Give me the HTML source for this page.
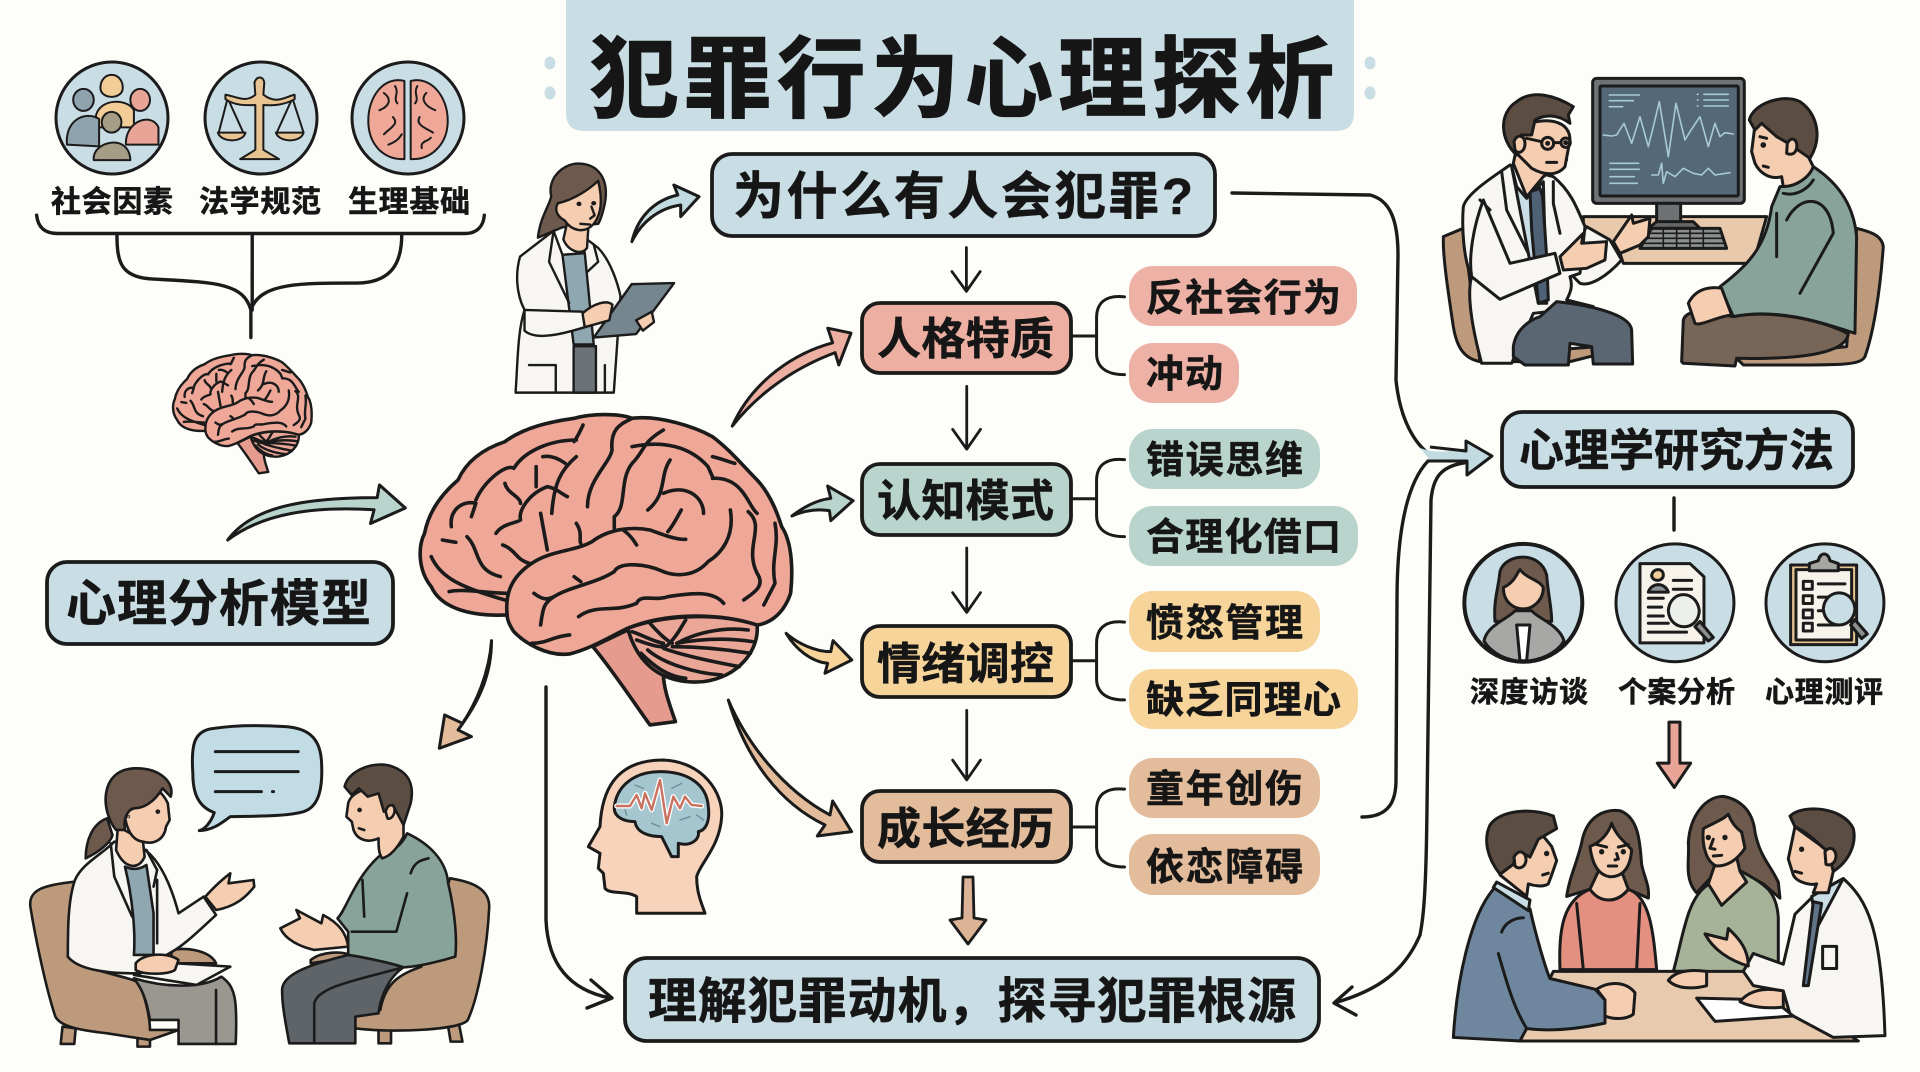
<!DOCTYPE html>
<html lang="zh"><head><meta charset="utf-8"><title>犯罪行为心理探析</title>
<style>
html,body{margin:0;padding:0;background:#FDFDF9;width:1920px;height:1072px;overflow:hidden}
svg{display:block}
path,rect,ellipse,circle,line{vector-effect:non-scaling-stroke}
text{font-family:"Liberation Sans","Noto Sans CJK SC",sans-serif;font-weight:700;fill:#161616;stroke:#161616;stroke-width:.5}
.s path,.s rect,.s ellipse,.s circle{stroke:#1b1b1b;stroke-linejoin:round;stroke-linecap:round}
.n{fill:none}
</style></head><body>
<svg width="1920" height="1072" viewBox="0 0 1920 1072" xmlns="http://www.w3.org/2000/svg">
<defs>
<g id="brain" class="s">
<g transform="translate(400,380) scale(.4464,.3333)">
<path fill="#E59C8E" d="M432 800C470 860 520 960 560 1035L617 1025C600 960 590 920 590 880L510 750Z"/>
<path fill="#EAA797" d="M510 745C540 890 620 912 680 905C760 890 805 810 800 735C720 700 600 700 510 745Z"/>
<path fill="#EFA898" d="M240 705C150 710 90 680 70 620C40 570 40 500 55 460C65 390 95 340 130 300C150 240 190 205 235 185C280 140 340 125 390 115C430 100 490 100 520 115C580 105 660 140 700 170C740 210 770 260 800 300C835 350 850 420 855 440C880 490 880 580 875 640C860 700 830 730 800 735C720 700 600 695 510 745C470 770 430 805 380 822C330 830 280 790 255 755C245 735 240 720 240 705Z"/>
<path class="n" d="M240 640C200 640 140 625 110 635M70 530C90 590 130 620 235 660M95 480L125 487M150 470C180 510 165 570 225 590M115 440C110 390 140 360 170 370L160 410M230 495C260 510 260 540 290 550M215 460C230 430 260 430 270 420C265 390 290 340 330 320C350 325 360 340 375 350M235 310C240 340 270 350 270 370M170 360C190 300 240 250 255 265C280 210 340 180 395 180M305 260L305 320M320 230C340 225 360 240 370 250M395 230C360 270 345 310 340 400M410 135C400 165 395 175 390 185M315 400L330 510M395 430C410 460 400 480 405 490M420 380C420 300 470 250 475 210C470 140 500 130 520 115M590 150C540 190 550 210 520 250C490 300 510 380 480 410L480 450M555 390C600 340 580 290 605 240M520 200C590 180 650 200 690 260L700 290M630 390C610 440 600 455 600 455M590 340C640 310 680 350 680 400M700 230C730 240 745 250 750 250M700 295C770 290 780 380 800 400M740 390C750 470 720 520 690 545C660 590 620 590 590 575M780 395C820 440 770 500 800 580C820 620 790 640 770 660M840 430C850 500 830 540 840 610L815 675M240 705C235 640 250 590 295 550C340 510 390 515 430 485C470 445 520 440 560 450C590 465 620 480 640 478M500 450C520 470 525 485 530 495M300 640C320 660 330 660 345 650C380 620 440 610 480 575C490 545 550 550 590 575M390 590L405 605M315 735C320 690 320 670 345 650M400 710C440 670 480 700 530 670C540 640 570 665 600 650C650 640 700 630 725 670M380 765C340 770 330 790 295 790M620 790C660 760 720 740 780 750M620 790C680 775 740 775 790 785M610 800C680 800 740 810 785 820M590 805C640 830 720 850 760 860M555 810C590 850 660 880 720 885M540 820C570 860 600 890 640 895M530 780C570 800 590 805 600 795C620 770 630 740 640 720M520 755C550 770 570 785 590 790M560 730C580 760 595 780 610 790"/>
</g></g>
</defs>
<rect width="1920" height="1072" fill="#FDFDF9"/>

<!-- title -->
<path d="M566 0H1354V113Q1354 131 1336 131H584Q566 131 566 113Z" fill="#C9DDE4"/>
<g fill="#C9DDE4"><ellipse cx="550" cy="63" rx="5.5" ry="6.5"/><ellipse cx="550" cy="93" rx="5.5" ry="6.5"/><ellipse cx="1370" cy="63" rx="5.5" ry="6.5"/><ellipse cx="1370" cy="93" rx="5.5" ry="6.5"/></g>
<text x="590" y="110" font-size="88" textLength="744" style="stroke-width:1.6">犯罪行为心理探析</text>

<!-- three top circles -->
<g class="s" stroke-width="3">
<circle cx="112" cy="118" r="56" fill="#C9DDE4"/><circle cx="261" cy="118" r="56" fill="#C9DDE4"/><circle cx="408" cy="118" r="56" fill="#C9DDE4"/>
<g transform="scale(.4464,.3444)" stroke-width="2">
<path fill="#F3CD97" d="M225 255C225 205 275 205 275 255C275 290 225 290 225 255ZM215 335C225 285 285 285 300 320L300 370H215Z"/>
<ellipse cx="187" cy="290" rx="23" ry="32" fill="#8FA3AE"/><path fill="#8FA3AE" d="M150 420C145 350 190 320 222 345L222 425Z"/>
<ellipse cx="314" cy="290" rx="22" ry="32" fill="#E8A497"/><path fill="#E8A497" d="M282 420C280 350 340 325 355 370V420Z"/>
<ellipse cx="250" cy="355" rx="22" ry="30" fill="#A59D85"/><path fill="#A59D85" d="M210 465C205 410 290 385 292 465Z"/>
<path class="n" d="M580 230V440M505 280C550 300 610 300 660 280M510 285L490 385M510 285L545 385M655 285L620 385M655 285L680 385" stroke="#1b1b1b"/>
<path fill="#E9C493" d="M570 240C575 220 590 220 592 240L590 275C620 305 640 280 660 275V288C630 310 600 305 590 305L590 435L625 462H538L572 435L572 305C560 305 530 310 505 288V275C530 280 550 300 572 275Z"/>
<path fill="#E9C493" d="M488 385H550C545 415 495 415 488 385ZM618 385H680C675 415 625 415 618 385Z"/>
<path fill="#EFA898" d="M906 235C860 220 825 280 825 350C825 420 860 465 906 462ZM920 235C965 220 1003 280 1003 350C1003 420 965 465 920 462Z"/>
<path class="n" d="M860 270C880 290 870 310 850 320M880 340C895 360 875 370 860 390M870 420C890 410 895 400 900 390M955 270C940 290 955 310 975 320M940 340C930 360 950 370 970 385M945 430C940 410 960 410 965 400M885 250C895 270 880 285 890 300M935 250C925 270 940 285 930 300"/>
</g></g>
<g font-size="30"><text x="51" y="212" textLength="122">社会因素</text><text x="199" y="212" textLength="122">法学规范</text><text x="348" y="212" textLength="122">生理基础</text></g>
<g transform="scale(.4464,.3444)" fill="none" stroke="#1b1b1b" stroke-width="3.4" stroke-linecap="round">
<path d="M82 625C85 660 100 678 130 678L1040 678C1070 678 1083 655 1085 625M262 680C262 760 270 805 340 810C480 820 545 820 562 900L562 980M900 680C900 760 880 820 800 822C680 822 590 820 565 890M565 680V900"/>
</g>

<!-- brains -->
<use href="#brain" stroke-width="3.6"/>
<use href="#brain" stroke-width="2.4" transform="translate(173,352) scale(.373,.385) translate(-420,-410)"/>

<!-- center doctor -->
<g class="s" stroke-width="2.4" transform="scale(.4464,.3444)">
<path fill="#6E5A4D" d="M1205 690C1210 630 1230 600 1235 570C1225 520 1260 475 1295 475C1340 475 1365 520 1355 590C1350 620 1345 640 1340 650L1260 660Z"/>
<path fill="#F7F6F2" d="M1155 1140C1160 1040 1160 960 1175 900C1155 850 1155 790 1165 745L1240 670L1260 740L1310 735L1300 680L1340 720C1370 760 1385 830 1390 860L1375 1140Z"/>
<path fill="#8EA7B0" d="M1260 740L1310 735L1330 1000L1285 1000Z"/><path fill="#6B7278" d="M1285 1005H1335V1140H1285Z"/>
<path fill="#F5CDB0" d="M1270 650L1262 695C1270 725 1300 745 1315 720L1318 660Z"/>
<path fill="#F5CDB0" d="M1250 590C1285 580 1320 550 1340 525C1350 580 1348 620 1330 650C1310 680 1280 670 1265 640C1250 630 1240 610 1250 590Z"/>
<circle cx="1297" cy="592" r="3" fill="#1b1b1b"/><circle cx="1330" cy="590" r="3" fill="#1b1b1b"/>
<path class="n" d="M1325 600L1332 625L1322 635M1300 650L1322 652"/>
<path fill="#F7F6F2" d="M1175 900L1305 905L1310 950C1260 970 1200 990 1175 960Z"/>
<path fill="#76868F" d="M1415 825L1510 822L1425 970L1330 980Z"/>
<path fill="#F5CDB0" d="M1305 910C1330 880 1360 870 1372 885L1365 930L1310 950ZM1425 930L1460 905L1465 935L1440 960Z"/>
<path class="n" d="M1240 670L1230 760L1275 880M1330 710L1340 760L1315 790M1185 1060H1245V1140M1355 1060V1140"/>
</g>

<!-- top arrow beside question -->
<path class="s" d="M195 725C205 650 235 600 275 585L268 555L312 590L280 650L280 615C240 625 210 670 195 725Z" transform="translate(520,0) scale(.5739,.3333)" fill="#C2DBE0" stroke="#1b1b1b" stroke-width="3" stroke-linejoin="round"/>

<!-- boxes -->
<g stroke="#1b1b1b" stroke-width="3.8">
<rect x="712" y="154" width="503" height="82" rx="20" fill="#C9DDE4"/>
<rect x="47" y="562" width="346" height="82" rx="20" fill="#C9DDE4"/>
<rect x="1502" y="412" width="351" height="75" rx="20" fill="#C9DDE4"/>
<rect x="625" y="958" width="694" height="83" rx="22" fill="#C9DDE4"/>
<rect x="862" y="303" width="209" height="70" rx="18" fill="#EDAFA2"/>
<rect x="862" y="464" width="209" height="71" rx="18" fill="#B9D3CD"/>
<rect x="862" y="626" width="209" height="71" rx="18" fill="#F7D59A"/>
<rect x="862" y="791" width="209" height="71" rx="18" fill="#E3BC9B"/>
</g>
<g>
<rect x="1129" y="266" width="228" height="60" rx="24" fill="#EDB2A5"/><rect x="1129" y="343" width="110" height="60" rx="24" fill="#EDB2A5"/>
<rect x="1129" y="429" width="191" height="60" rx="24" fill="#B9D3CD"/><rect x="1129" y="506" width="229" height="60" rx="24" fill="#B9D3CD"/>
<rect x="1129" y="591" width="191" height="61" rx="24" fill="#F7D59A"/><rect x="1129" y="669" width="229" height="60" rx="24" fill="#F7D59A"/>
<rect x="1129" y="758" width="191" height="60" rx="24" fill="#E3BC9B"/><rect x="1129" y="834" width="191" height="61" rx="24" fill="#E3BC9B"/>
</g>
<text x="733" y="214" font-size="51" textLength="460">为什么有人会犯罪?</text>
<text x="66" y="621" font-size="50" textLength="305">心理分析模型</text>
<text x="1519" y="466" font-size="45" textLength="315">心理学研究方法</text>
<text x="648" y="1018" font-size="49" textLength="648">理解犯罪动机，探寻犯罪根源</text>
<g font-size="44"><text x="877" y="354" textLength="177">人格特质</text><text x="877" y="516" textLength="177">认知模式</text><text x="877" y="679" textLength="177">情绪调控</text><text x="877" y="844" textLength="177">成长经历</text></g>
<g font-size="38"><text x="1146" y="311" textLength="195">反社会行为</text><text x="1146" y="387" textLength="77">冲动</text><text x="1146" y="473" textLength="157">错误思维</text><text x="1146" y="550" textLength="195">合理化借口</text><text x="1146" y="636" textLength="157">愤怒管理</text><text x="1146" y="713" textLength="195">缺乏同理心</text><text x="1146" y="802" textLength="157">童年创伤</text><text x="1146" y="880" textLength="157">依恋障碍</text></g>

<!-- connectors column -->
<g transform="translate(840,240) scale(.3444,.4208)" fill="none" stroke="#1b1b1b" stroke-width="2.8" stroke-linecap="round" stroke-linejoin="round">
<path d="M367 18V120M325 75L367 122L407 75M368 348V495M327 450L368 497L408 450M368 732V883M327 838L368 885L408 838M368 1118V1281M327 1236L368 1283L408 1236"/>
</g>
<g transform="translate(840,240) scale(.3444,.4208)" fill="none" stroke="#1b1b1b" stroke-width="3" stroke-linecap="round">
<path d="M675 228H742M826 135C770 130 745 150 745 185V270C745 300 770 320 826 320"/>
<path d="M675 615H742M826 522C770 517 745 537 745 572V655C745 685 770 705 826 705"/>
<path d="M675 1000H742M826 908C770 903 745 923 745 958V1043C745 1073 770 1093 826 1093"/>
<path d="M675 1395H742M826 1305C770 1300 745 1320 745 1355V1440C745 1470 770 1490 826 1490"/>
</g>
<path d="M963 877L973 877L974 918L986 920L968 944L950 920L962 918Z" fill="#DDB398" stroke="#1b1b1b" stroke-width="2.8" stroke-linejoin="round"/>

<!-- long lines -->
<g fill="none" stroke="#1b1b1b" stroke-width="3.4" stroke-linecap="round" stroke-linejoin="round">
<path d="M1232 193L1370 195C1390 200 1398 220 1398 255L1396 380C1400 420 1415 445 1432 456"/>
<path d="M1362 817C1390 817 1396 800 1396 780L1397 600C1397 520 1410 480 1428 461"/>
<path d="M1470 462C1440 465 1433 478 1431 500L1427 807C1426 900 1423 920 1420 935C1405 970 1380 990 1334 1003M1352 987L1334 1003L1356 1015"/>
<path d="M546 687V920C548 965 570 990 610 998M591 980L612 998L587 1008"/>
<path d="M1674 498V530" stroke-width="3.4"/>
</g>
<path d="M1420 448C1440 455 1452 450 1466 448L1466 441L1492 456L1467 475L1467 462C1450 463 1440 462 1430 460Z" fill="#C2DBE0"/>
<path d="M1430 447L1466 451L1466 441L1492 456L1467 475L1467 461L1428 461" fill="none" stroke="#1b1b1b" stroke-width="3" stroke-linejoin="round"/>

<!-- block arrows -->
<g stroke="#1b1b1b" stroke-width="3" stroke-linejoin="round">
<path transform="scale(.4464,.3444)" fill="#B9D3CD" d="M510 1568C560 1480 660 1445 845 1445L850 1408L908 1475L830 1520L838 1480C700 1470 590 1490 510 1568Z"/>
<path transform="scale(1.2245)" fill="#EDAFA2" d="M598 348C615 310 650 288 680 280L676 268L695 272L685 298L682 288C650 300 620 320 598 348Z"/>
<path transform="translate(400,380) scale(.4464,.3333)" fill="#B9D3CD" d="M878 408C905 380 935 360 965 355L958 318L1015 362L965 422L962 392C930 385 900 395 878 408Z"/>
<path transform="translate(400,380) scale(.4464,.3333)" fill="#F7D59A" d="M865 760C890 790 930 815 965 815L970 782L1012 840L952 880L958 850C920 845 885 805 865 760Z"/>
<path transform="translate(400,380) scale(.4464,.3333)" fill="#E3BC9B" d="M205 782C200 880 170 970 140 1030L100 1005L88 1105L160 1070L130 1050C180 960 205 880 205 782Z"/>
<path transform="translate(560,700) scale(.3333)" fill="#E3BC9B" d="M505 0C560 130 670 270 810 345L818 303L875 395L772 408L795 375C660 310 560 180 505 0Z"/>
<path transform="translate(1420,500) scale(.3333,.3571)" fill="#E8A497" d="M747 622H780V737H812L763 805L712 737H747Z"/>
</g>

<!-- head with brain -->
<g class="s" transform="translate(560,700) scale(.3333)" stroke-width="3">
<path fill="#F6D3BA" d="M230 640V590C200 570 150 585 135 565L130 520L115 505L120 460L85 440L120 380C125 280 160 180 310 180C430 185 490 280 485 350C480 440 420 490 410 530C410 580 425 610 435 640Z"/>
<path fill="#A5C6CF" d="M163 320C170 260 220 215 300 215C380 215 440 250 445 320C450 360 440 390 415 395C420 420 390 440 355 430L355 470L335 470L305 410C270 410 230 400 225 365C190 365 160 350 163 320Z"/>
<path class="n" style="stroke:#6E8F9C" stroke-width="1.4" d="M225 255L250 265M335 265L365 250M275 370L300 380M360 360L390 350M410 345L430 360M195 330L200 345"/>
<path class="n" style="stroke:#fff" stroke-width="5" d="M170 318L210 318L230 285L245 325L255 280L275 330L300 240L320 370L340 290L360 325L375 290L395 315L425 318"/>
<path class="n" style="stroke:#C9705F" stroke-width="2.4" d="M170 318L210 318L230 285L245 325L255 280L275 330L300 240L320 370L340 290L360 325L375 290L395 315L425 318"/>
</g>

<!-- left counselling scene -->
<g class="s" transform="translate(0,680) scale(.3571,.3333)" stroke-width="2.6">
<path fill="#C2DCE5" d="M600 145C540 150 535 200 540 280C540 340 555 380 600 398C590 430 570 450 558 452C600 450 625 425 645 410C720 408 800 410 850 395C895 380 905 320 900 240C895 170 860 145 800 140C730 135 660 135 600 145Z" stroke-width="3"/>
<path class="n" d="M603 215H835M603 275H835M603 335H732M763 335H766" stroke-width="3"/>
<path fill="#BE9A7C" d="M175 1040L170 1092H208L212 1045ZM385 1060V1100H420V1060ZM1060 1050V1090H1095V1050ZM1255 1040L1262 1085H1295L1285 1030Z"/>
<path fill="#BE9A7C" d="M85 680C80 630 120 615 210 605L190 830C260 880 370 890 390 910C410 960 420 1020 420 1050L500 1050L420 1080L300 1060C220 1050 170 1040 155 1010C130 930 100 780 85 680Z"/>
<path fill="#9A9690" d="M375 895C450 920 560 930 620 890C660 920 665 960 660 1092H500V1020H420C410 960 400 930 375 895Z"/>
<path class="n" d="M605 930V1092"/>
<path fill="#BE9A7C" d="M480 810C530 800 590 815 605 850L480 850Z"/>
<path fill="#F7F6F2" d="M210 600C230 550 290 520 320 485L400 505C450 540 480 620 500 700L570 650L605 705C560 750 520 790 490 810L380 880C300 880 220 870 190 830C190 750 190 660 210 600Z"/>
<path fill="#8EA7B0" d="M350 560C370 570 390 570 410 555L430 700L430 825L375 825C380 750 370 650 350 560Z"/>
<path class="n" d="M310 490L320 590L370 710M410 510L440 570L430 620M440 600V790"/>
<path fill="#F5CDB0" d="M330 440L325 510C350 570 390 570 405 530L400 480Z"/>
<path fill="#6E5A4D" d="M300 415C260 430 240 480 240 535C270 520 310 490 315 465Z"/>
<path fill="#F5CDB0" d="M350 370C370 300 440 300 470 370L475 420L465 440C460 480 430 495 400 485C360 480 345 420 350 370Z"/>
<path fill="#6E5A4D" d="M325 450C280 390 280 270 375 265C450 262 490 310 478 350L455 325C430 370 400 385 375 385C355 390 345 420 350 450Z"/>
<circle cx="442" cy="395" r="3" fill="#1b1b1b"/><circle cx="360" cy="410" r="1" fill="#1b1b1b"/>
<path fill="#F5CDB0" d="M575 650C600 620 620 600 645 580L640 610L710 600L712 620C690 650 660 680 605 690Z"/>
<path fill="#F7F6F2" d="M375 885L550 915L645 860L495 850Z"/>
<path fill="#F5CDB0" d="M380 850C400 820 470 815 500 840L490 870C470 885 400 885 380 870Z"/>
<path fill="#BE9A7C" d="M995 1045C1100 1060 1290 1050 1310 1020C1340 950 1365 800 1370 680C1370 625 1320 605 1260 595L1180 860C1130 880 1080 900 1065 990L995 1010Z"/>
<path fill="#BE9A7C" d="M870 840C900 815 960 810 990 830L870 850Z"/>
<path fill="#5F6468" d="M790 930C790 880 880 850 975 825C1040 825 1090 850 1130 862C1090 890 1065 950 1060 1000L995 1010V1090H810C800 1030 790 980 790 930Z"/>
<path class="n" d="M880 1090V970C890 920 1000 900 1130 862"/>
<path fill="#88A399" d="M1060 530C1080 520 1120 510 1140 460C1200 490 1250 540 1255 610C1275 700 1280 780 1275 830C1230 845 1170 860 1130 862C1100 850 1010 830 975 825L975 755L945 715C970 690 990 600 1060 530Z"/>
<path class="n" d="M1015 600L1020 710M1140 640L1110 755H985M1150 580C1160 545 1180 540 1200 535"/>
<path fill="#F5CDB0" d="M975 370C990 310 1130 300 1130 400V470C1110 510 1090 530 1070 535C1060 520 1060 500 1060 475C1030 490 1000 480 990 450L985 425L970 410Z"/>
<path fill="#5C4D43" d="M965 320C975 270 1050 240 1100 260C1150 280 1160 320 1150 370L1130 435L1100 375L1075 395L1060 340L1030 350L1005 325L985 345Z"/>
<circle cx="1007" cy="390" r="3" fill="#1b1b1b"/>
<path class="n" d="M1005 445L1020 450"/>
<path fill="#F5CDB0" d="M1080 395C1085 370 1105 370 1105 390C1105 410 1090 420 1085 415Z"/>
<path fill="#F5CDB0" d="M785 745L840 715L830 690L900 730L905 705C950 730 970 760 975 800L880 810C840 800 800 780 785 745Z"/>
</g>

<!-- top-right scene -->
<g class="s" transform="translate(1400,60) scale(.3333)" stroke-width="3">
<path fill="#E8C9AB" d="M550 470H1100L1060 610H670L660 580L550 500Z"/>
<rect x="578" y="55" width="455" height="375" rx="12" fill="#6E7275"/>
<rect x="600" y="78" width="415" height="330" rx="4" fill="#556879"/>
<path class="n" style="stroke:#A8CBD3" stroke-width="1.6" d="M610 225L635 228L650 225L672 190L695 250L720 170L745 260L760 200L778 125L805 290L828 130L855 240L870 215L900 170L925 260L945 190L960 230L975 218L1000 222M755 345L775 345L785 310L790 370L800 335L825 350L850 325L880 340L905 345L925 325L945 345L990 338M628 105H718M628 122H700M628 140H668M912 103H985M912 120H985M912 138H985M630 310H716M630 328H718M630 350H703M630 370H712M892 103h2M892 120h2M892 138h2"/>
<path fill="#6E7275" d="M770 430H842V487H770Z"/><path fill="#666" d="M745 505L770 485H880L900 505Z"/>
<path fill="#8C8F8F" d="M755 505H960L980 565H720Z"/>
<path class="n" stroke-width="1.6" d="M750 520H965M742 535H970M730 550H975M790 510V560M830 510V560M870 510V560M910 510V560"/>
<path fill="#BE9A7C" d="M130 530L190 505L240 905C190 895 170 860 160 800C145 700 130 600 130 545Z"/>
<path fill="#BE9A7C" d="M1370 505C1410 515 1445 525 1450 560C1440 700 1420 820 1395 890C1380 920 1300 915 1030 915L1010 895L1340 860Z"/>
<path fill="#BE9A7C" d="M340 880L590 860V885L510 905H340Z"/>
<path fill="#F7F6F2" d="M560 500L630 540L665 600C620 650 570 680 540 670L490 620Z"/>
<path fill="#F7F6F2" d="M190 440C200 400 280 350 330 315L460 350C510 390 530 440 555 500L540 640L510 650C520 680 510 700 500 720L580 740L400 760L335 910H245C215 800 200 700 215 650C190 600 185 500 190 440Z"/>
<path fill="#C9DDE4" d="M335 320L350 380L380 415L430 365L440 730L415 730L385 580Z"/>
<path fill="#4F6175" d="M390 395L420 385L428 410L440 590L445 720L415 730L395 510Z"/>
<path class="n" d="M305 335L320 450L385 580M460 365L460 430L480 520M240 420L270 450"/>
<path fill="#5A6672" d="M340 860C350 790 420 770 420 770L470 725C560 735 690 760 695 810L698 912H580L575 860L510 850L505 915H375L340 890Z"/>
<path fill="#F7F6F2" d="M215 650L300 718L480 640L465 580L330 610L250 420C220 500 205 590 215 650Z"/>
<path fill="#F5CDB0" d="M340 310L355 240L500 300L430 350L380 410Z"/>
<path fill="#F5CDB0" d="M345 230C350 180 510 150 510 240L495 320C470 350 430 345 395 325L350 280Z"/>
<path fill="#5C4D43" d="M350 285C300 240 295 160 350 125C400 85 470 110 520 140L505 165L510 190C470 160 430 165 405 180L395 225L365 225C345 235 345 270 350 285Z"/>
<path fill="#F5CDB0" d="M342 245C350 220 375 225 375 250C375 275 355 285 345 270Z"/>
<circle cx="443" cy="250" r="18" fill="none"/><circle cx="497" cy="248" r="14" fill="none"/><path class="n" d="M380 235L425 245M461 248H483M440 307H470"/>
<circle cx="443" cy="250" r="3" fill="#1b1b1b"/><circle cx="497" cy="248" r="3" fill="#1b1b1b"/>
<path fill="#F5CDB0" d="M480 590L550 520L545 550L620 545L615 600L560 625L490 630Z"/>
<path fill="#F5CDB0" d="M640 545L695 465L700 490L750 475L745 530L720 555L660 580Z"/>
<path fill="#776658" d="M845 905L850 780C860 750 900 750 1000 770C1130 745 1290 790 1345 822C1340 860 1280 900 1010 895L1005 918L850 910Z"/>
<path fill="#88A399" d="M1240 320C1300 360 1360 420 1370 530L1365 820C1300 800 1150 740 1000 770L960 680C1040 620 1100 560 1115 440L1140 380C1190 380 1220 350 1240 320Z"/>
<path class="n" d="M1130 460V590M1150 400C1190 410 1225 385 1240 360M1160 480C1200 400 1290 400 1300 520L1200 700"/>
<path fill="#F5CDB0" d="M865 730C890 680 940 680 965 685L995 765C950 770 900 800 885 790Z"/>
<path fill="#F5CDB0" d="M1065 195L1055 275L1065 310C1080 340 1110 360 1145 350L1150 380C1190 380 1230 350 1240 320L1225 290C1260 230 1240 170 1190 130Z"/>
<path fill="#5C4D43" d="M1048 180C1060 130 1150 100 1200 125C1250 160 1270 230 1230 295L1165 250L1130 230L1085 190L1065 210Z"/>
<path fill="#F5CDB0" d="M1162 250C1175 225 1195 240 1190 265C1185 285 1170 285 1160 280Z"/>
<circle cx="1090" cy="255" r="4" fill="#1b1b1b"/><path class="n" d="M1080 230L1100 235M1090 318L1105 322"/>
</g>

<!-- methods circles -->
<g class="s" transform="translate(1420,500) scale(.3333,.3571)" stroke-width="3">
<ellipse cx="310" cy="288" rx="177" ry="165" fill="#C9DDE4" stroke-width="4"/><ellipse cx="765" cy="288" rx="177" ry="165" fill="#C9DDE4"/><ellipse cx="1215" cy="288" rx="177" ry="165" fill="#C9DDE4"/>
<path fill="#6E5A4D" d="M225 340C220 280 235 250 240 200C255 150 360 140 380 210C385 270 395 300 395 340Z"/>
<path fill="#A7A7A5" d="M192 395C200 350 270 330 285 310H335C350 330 420 350 432 395C410 430 360 450 310 452C260 450 215 430 192 395Z"/>
<path fill="#fff" d="M290 350H330L320 450H300Z"/>
<path fill="#F5CDB0" d="M250 245C285 230 290 205 300 195C320 220 360 225 370 245C370 280 340 305 310 305C280 305 250 285 250 245Z"/>
<path fill="#F7F3EA" d="M660 178H810L852 215V400H660Z"/><path fill="#F3CD97" d="M695 210C700 190 730 190 730 210C730 230 695 230 695 210Z"/><path fill="#8A949A" d="M685 258C695 230 735 230 745 258Z"/>
<path class="n" d="M760 225H815M760 250H815M685 275H730M685 300H725M685 325H730M685 345H745M685 370H800"/>
<path fill="#EDEFEA" d="M745 310C750 250 830 250 838 310C835 370 750 370 745 310Z"/><path fill="#8C908E" d="M825 355L840 340L880 385L865 395Z"/>
<path fill="#E9C493" d="M1112 182H1310V405H1112Z"/><path fill="#F7F3EA" d="M1128 195H1295V392H1128Z"/><path fill="#A5A6A2" d="M1168 198V178L1195 170C1200 145 1225 145 1230 170L1255 178V198Z"/>
<rect x="1150" y="228" width="27" height="22" fill="none"/><rect x="1150" y="268" width="27" height="22" fill="none"/><rect x="1150" y="308" width="27" height="22" fill="none"/><rect x="1150" y="345" width="27" height="22" fill="none"/>
<path class="n" d="M1195 235H1275M1195 272H1225M1195 310H1215M1195 350H1250"/>
<path fill="#C9DDE4" d="M1210 305C1215 245 1300 245 1305 305C1300 365 1215 365 1210 305Z"/><path fill="#8C908E" d="M1292 350L1305 335L1342 375L1325 388Z"/>
</g>
<g font-size="29"><text x="1470" y="702" textLength="118">深度访谈</text><text x="1618" y="702" textLength="117">个案分析</text><text x="1765" y="702" textLength="118">心理测评</text></g>

<!-- meeting scene -->
<g class="s" transform="translate(1420,500) scale(.3333,.3571)" stroke-width="3">
<path fill="#E39080" d="M420 1315C415 1200 430 1120 510 1090C550 1130 590 1130 625 1090C690 1110 700 1210 710 1315Z"/>
<path class="n" d="M470 1130L490 1315M660 1130L650 1315"/>
<path fill="#6E5A4D" d="M440 1110C450 1050 470 1020 485 960C500 880 560 865 600 870C660 890 660 970 665 1020C670 1050 690 1080 685 1115L625 1090L510 1090Z"/>
<path fill="#F5CDB0" d="M535 1040L510 1090C540 1130 590 1130 625 1090L605 1040Z"/>
<path fill="#F5CDB0" d="M510 970C540 960 565 935 575 905C590 945 620 960 635 980C630 1040 600 1055 570 1055C530 1050 515 1010 510 970Z"/>
<circle cx="545" cy="985" r="3.5" fill="#1b1b1b"/><circle cx="610" cy="985" r="3.5" fill="#1b1b1b"/><path class="n" d="M530 965L560 972M595 972L625 965M590 990L595 1005L585 1008M565 1025H590"/>
<path fill="#6E5A4D" d="M830 1100C790 1060 810 1000 805 960C810 880 860 830 910 830C970 840 1000 880 1005 930C1020 1000 1050 1020 1075 1070L1080 1115L1030 1075L960 1040L870 1060Z"/>
<path fill="#A7B398" d="M760 1320C790 1220 800 1120 860 1080L965 1040C1030 1075 1070 1090 1075 1170L1075 1310L970 1340L860 1360L850 1320Z"/>
<path fill="#F5CDB0" d="M885 1020L865 1075L905 1135L980 1070L960 1040L950 1000Z"/>
<path fill="#F5CDB0" d="M850 920C880 905 910 895 925 880C935 905 950 920 965 930L975 975C950 1010 920 1025 890 1025C860 1015 845 970 850 920Z"/>
<circle cx="865" cy="945" r="3.5" fill="#1b1b1b"/><circle cx="915" cy="945" r="3.5" fill="#1b1b1b"/><path class="n" d="M880 950L870 975L885 978M880 997L905 995"/>
<path fill="#E8CBAE" d="M400 1320H1000L1315 1515H300Z"/>
<path fill="#6F879E" d="M100 1505C110 1350 150 1160 225 1085L330 1145C350 1230 380 1320 390 1340L525 1370L555 1400L555 1465C480 1480 400 1490 320 1480L300 1515Z"/>
<path fill="#C9DDE4" d="M220 1085L230 1070L330 1120L325 1150Z"/>
<path fill="#F5CDB0" d="M240 1010L360 930L395 970L410 1010L395 1050L385 1075C370 1085 340 1080 325 1075L320 1110L240 1050Z"/>
<path fill="#5C4D43" d="M240 1048C200 1000 190 950 210 910C240 870 330 860 400 885L410 920L355 950L330 1000C300 980 285 1000 280 1020Z"/>
<path fill="#F5CDB0" d="M282 1000C295 975 320 985 318 1010C315 1030 295 1035 285 1025Z"/>
<circle cx="380" cy="990" r="3.5" fill="#1b1b1b"/><path class="n" d="M368 1050L385 1045"/>
<path fill="#F5CDB0" d="M530 1370C570 1345 620 1350 645 1380L640 1440C620 1455 580 1455 555 1445L555 1400Z"/>
<path class="n" d="M245 1210C255 1180 290 1170 310 1170M235 1270C260 1350 280 1420 320 1480"/>
<path fill="#F5CDB0" d="M745 1345C770 1315 820 1315 860 1320L860 1360C820 1370 770 1370 745 1345Z"/>
<path fill="#F7F6F2" d="M970 1320L1000 1270L1090 1300L1125 1160L1190 1100L1270 1060C1340 1120 1385 1190 1395 1500L1240 1505L1110 1440L1090 1375L1000 1360Z"/>
<path fill="#C9DDE4" d="M1175 1110L1270 1060L1190 1200Z"/><path fill="#5F7488" d="M1180 1125L1205 1130L1165 1360H1150Z"/>
<path fill="#F7F6F2" d="M1208 1250H1250V1312H1208Z"/>
<path fill="#F5CDB0" d="M1125 915L1105 1005L1120 1050C1130 1070 1170 1080 1190 1075L1180 1100L1225 1100L1250 1000Z"/>
<path fill="#5C4D43" d="M1110 885C1150 850 1270 860 1300 920C1310 960 1290 1010 1240 1040L1225 985C1200 970 1180 940 1125 915Z"/>
<path fill="#F5CDB0" d="M1215 985C1230 965 1250 980 1248 1000C1245 1020 1228 1025 1218 1020Z"/>
<circle cx="1145" cy="978" r="3.5" fill="#1b1b1b"/><path class="n" d="M1125 1040L1145 1045"/>
<path fill="#F5CDB0" d="M855 1215L920 1230L925 1200C960 1230 985 1260 985 1305C930 1290 880 1260 855 1215Z"/>
<path fill="#fff" d="M830 1395L1060 1400L1120 1445L885 1460Z"/>
<path fill="#F5CDB0" d="M960 1405C990 1370 1040 1365 1090 1375L1090 1420C1040 1425 990 1420 960 1405Z"/>
</g>
</svg>
</body></html>
